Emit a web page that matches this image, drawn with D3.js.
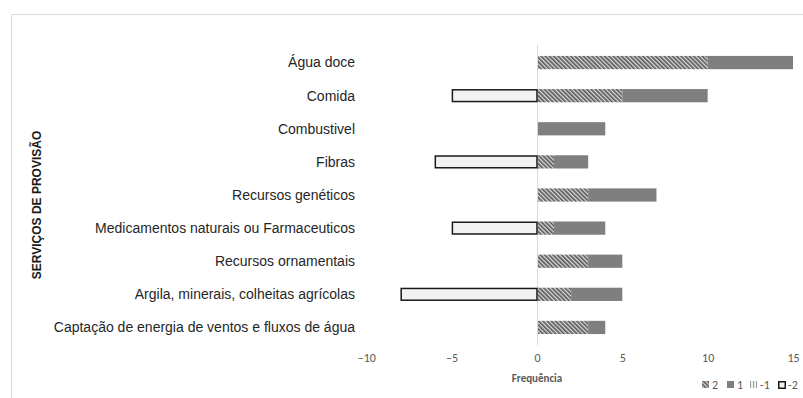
<!DOCTYPE html>
<html>
<head>
<meta charset="utf-8">
<script src="https://cdn.jsdelivr.net/npm/d3@7"></script>
<style>
  html, body { margin: 0; padding: 0; background: #fff; }
  svg { display: block; }
</style>
</head>
<body>
<svg id="chart" width="803" height="398"></svg>
<script>
// Provisioning ecosystem services, frequency of each score
const categories = [
  "Água doce",
  "Comida",
  "Combustivel",
  "Fibras",
  "Recursos genéticos",
  "Medicamentos naturais ou Farmaceuticos",
  "Recursos ornamentais",
  "Argila, minerais, colheitas agrícolas",
  "Captação de energia de ventos e fluxos de água"
];
const score2 = [10, 5, 0, 1, 3, 1, 3, 2, 3];
const score1 = [5, 5, 4, 2, 4, 3, 2, 3, 1];
const scoreNeg1 = [0, 0, 0, 0, 0, 0, 0, 0, 0];
const scoreNeg2 = [0, -5, 0, -6, 0, -5, 0, -8, 0];
const xTicks = [-10, -5, 0, 5, 10, 15];
const legendLabels = ["2", "1", "-1", "-2"];

const svg = d3.select("#chart");

// diagonal hatch for score 2
const defs = svg.append("defs");
const pat = defs.append("pattern")
  .attr("id", "hatch")
  .attr("patternUnits", "userSpaceOnUse")
  .attr("width", 3).attr("height", 3)
  .attr("patternTransform", "rotate(-45)");
pat.append("rect").attr("width", 3).attr("height", 3).attr("fill", "#dcdcdc");
pat.append("rect").attr("width", 1.7).attr("height", 3).attr("fill", "#5a5a5a");

// vertical stripes for score -1
const pat2 = defs.append("pattern")
  .attr("id", "vstripe")
  .attr("patternUnits", "userSpaceOnUse")
  .attr("width", 3).attr("height", 3);
pat2.append("rect").attr("width", 3).attr("height", 3).attr("fill", "#f2f2f2");
pat2.append("rect").attr("width", 1).attr("height", 3).attr("fill", "#9a9a9a");

// outer frame (top and left edges visible)
svg.append("path")
  .attr("d", "M11.5,398 L11.5,14.5 L803,14.5")
  .attr("fill", "none").attr("stroke", "#d9d9d9").attr("stroke-width", 1);

const x = d3.scaleLinear().domain([-10, 15]).range([366.3, 793]);
const y = d3.scaleBand().domain(categories).range([46, 344]).paddingInner(0.6).paddingOuter(0.3);

// zero line
svg.append("line")
  .attr("x1", x(0) + 0.5).attr("x2", x(0) + 0.5)
  .attr("y1", 45).attr("y2", 345)
  .attr("stroke", "#d9d9d9").attr("stroke-width", 1);

const rows = categories.map((c, i) => ({
  c, s2: score2[i], s1: score1[i], n1: scoreNeg1[i], n2: scoreNeg2[i]
}));

const bh = y.bandwidth();

// score 2 (starting at 0)
svg.append("g").selectAll("rect").data(rows.filter(d => d.s2 > 0)).join("rect")
  .attr("x", d => x(0) + 1)
  .attr("y", d => y(d.c))
  .attr("width", d => x(d.s2) - x(0) - 1)
  .attr("height", bh)
  .attr("fill", "url(#hatch)");

// score 1 stacked after score 2
svg.append("g").selectAll("rect").data(rows.filter(d => d.s1 > 0)).join("rect")
  .attr("x", d => x(d.s2) + (d.s2 === 0 ? 1 : 0))
  .attr("y", d => y(d.c))
  .attr("width", d => x(d.s2 + d.s1) - x(d.s2) - (d.s2 === 0 ? 1 : 0))
  .attr("height", bh)
  .attr("fill", "#7f7f7f");

// score -1 (negative side)
svg.append("g").selectAll("rect").data(rows.filter(d => d.n1 < 0)).join("rect")
  .attr("x", d => x(d.n1))
  .attr("y", d => y(d.c))
  .attr("width", d => x(0) - x(d.n1))
  .attr("height", bh)
  .attr("fill", "url(#vstripe)");

// score -2 (negative side, after -1)
svg.append("g").selectAll("rect").data(rows.filter(d => d.n2 < 0)).join("rect")
  .attr("x", d => x(d.n1 + d.n2) + 0.75)
  .attr("y", d => y(d.c) + 0.75)
  .attr("width", d => x(d.n1) - x(d.n1 + d.n2) - 0.75)
  .attr("height", bh - 1.5)
  .attr("fill", "#f2f2f2")
  .attr("stroke", "#1a1a1a").attr("stroke-width", 1.5);

// category labels
svg.append("g").selectAll("text").data(categories).join("text")
  .attr("x", 355)
  .attr("y", d => y(d) + bh / 2)
  .attr("dy", "0.35em")
  .attr("text-anchor", "end")
  .attr("font-family", "Liberation Sans, Arial, sans-serif")
  .attr("font-size", 14)
  .attr("fill", "#262626")
  .text(d => d);

// x axis tick labels
const axis = d3.axisBottom(x).tickValues(xTicks).tickSize(0).tickPadding(0).tickFormat(d3.format("d"));
const ax = svg.append("g").attr("transform", "translate(0,358)").call(axis);
ax.select(".domain").remove();
ax.selectAll("text")
  .attr("font-family", "Carlito, Calibri, 'Open Sans', sans-serif")
  .attr("font-size", 12)
  .attr("fill", "#595959")
  .attr("dy", "0.35em");

// axis titles
svg.append("text")
  .attr("x", x(0)).attr("y", 382)
  .attr("text-anchor", "middle")
  .attr("font-family", "Carlito, Calibri, 'Open Sans', sans-serif")
  .attr("font-size", 11)
  .attr("font-weight", "bold")
  .attr("fill", "#595959")
  .text("Frequência");

svg.append("text")
  .attr("transform", "translate(41,205) rotate(-90)")
  .attr("text-anchor", "middle")
  .attr("font-family", "Liberation Sans, Arial, sans-serif")
  .attr("font-size", 12)
  .attr("font-weight", "bold")
  .attr("fill", "#1a1a1a")
  .text("SERVIÇOS DE PROVISÃO");

// legend
const legendFills = ["url(#hatch)", "#7f7f7f", "url(#vstripe)", "#f2f2f2"];
const legendX = [702, 727, 750, 778];
const lg = svg.append("g");
legendLabels.forEach((lab, i) => {
  const g = lg.append("g").attr("transform", `translate(${legendX[i]},381)`);
  g.append("rect")
    .attr("x", i === 3 ? 0.75 : 0).attr("y", i === 3 ? 0.75 : 0)
    .attr("width", i === 3 ? 6.5 : 7).attr("height", i === 3 ? 6.5 : 7)
    .attr("fill", legendFills[i])
    .attr("stroke", i === 3 ? "#1a1a1a" : "none")
    .attr("stroke-width", 1.5);
  g.append("text")
    .attr("x", 10).attr("y", 4)
    .attr("dy", "0.35em")
    .attr("font-family", "Carlito, Calibri, 'Open Sans', sans-serif")
    .attr("font-size", 12)
    .attr("fill", "#595959")
    .text(lab);
});
</script>
</body>
</html>
